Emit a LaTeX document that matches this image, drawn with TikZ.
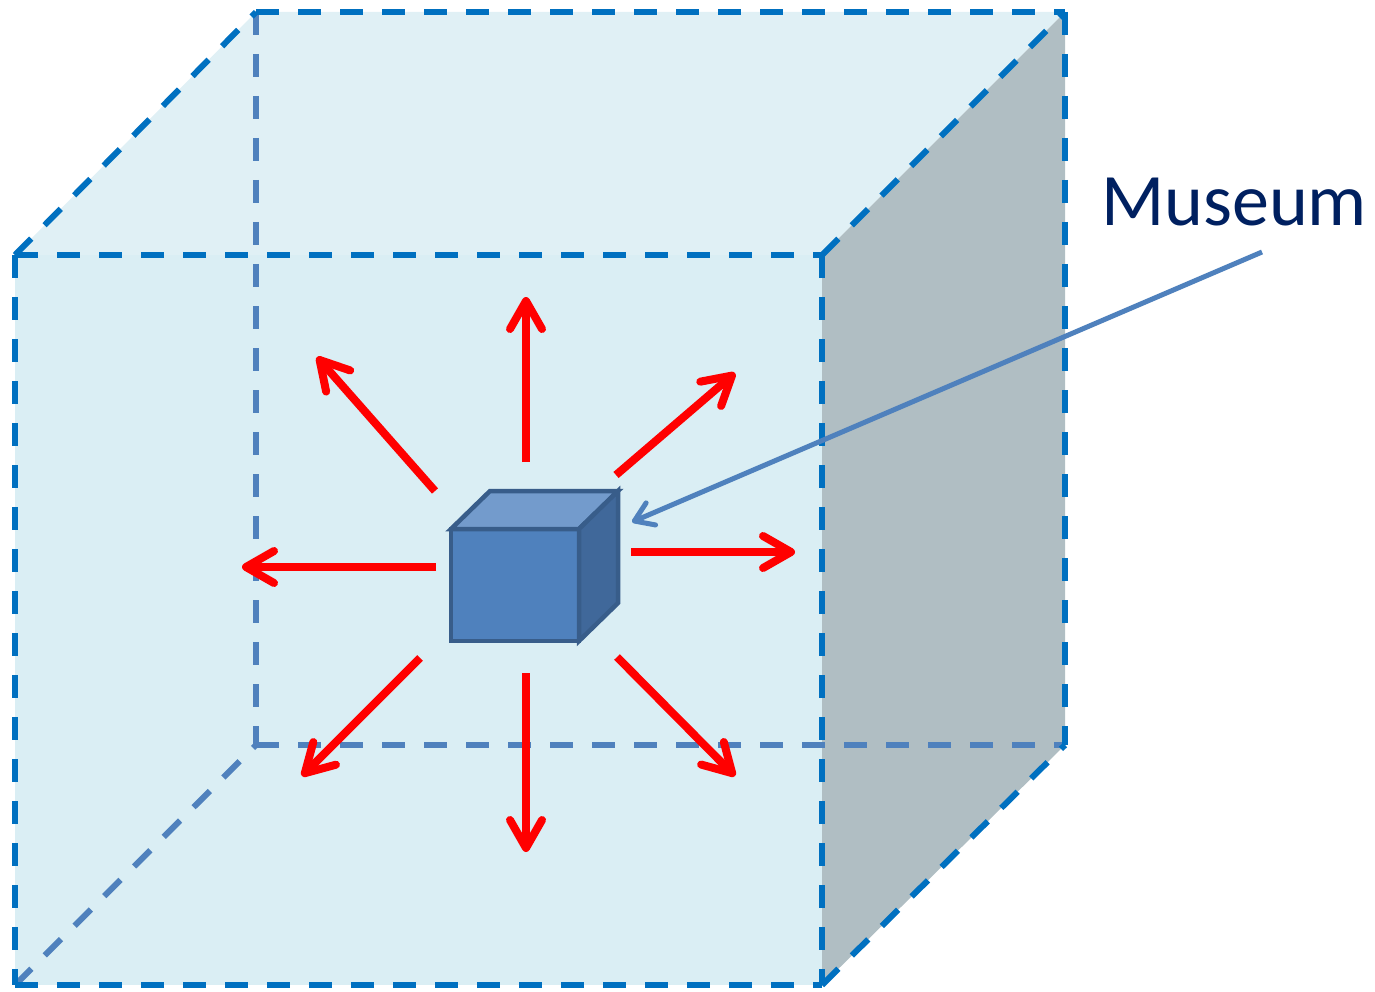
\documentclass[tikz,border=0pt]{standalone}
\usepackage{fontspec}
\setmainfont{Carlito}
\usetikzlibrary{arrows.meta}

\definecolor{frontfill}{RGB}{218,238,244}
\definecolor{topfill}{RGB}{224,240,245}
\definecolor{sidefill}{RGB}{176,190,195}
\definecolor{edgeblue}{RGB}{0,112,192}
\definecolor{hiddenblue}{RGB}{79,129,189}
\definecolor{cubefront}{RGB}{79,129,189}
\definecolor{cubetop}{RGB}{115,155,204}
\definecolor{cuberight}{RGB}{64,104,154}
\definecolor{cubeedge}{RGB}{56,93,138}
\definecolor{labelnavy}{RGB}{0,32,96}

\tikzset{
  visibleedge/.style={draw=edgeblue, line width=6pt, dash pattern=on 23pt off 19pt},
  hiddenedge/.style={draw=hiddenblue, line width=6pt, dash pattern=on 23pt off 19pt},
  cubeface/.style={draw=cubeedge, line width=4.5pt, line join=miter},
  ray/.style={draw=red, line width=8pt,
    -{Straight Barb[length=28pt, width=32pt, round]}},
  pointer/.style={draw=hiddenblue, line width=5pt,
    -{Straight Barb[length=18pt, width=24pt, round]}},
  labeltext/.style={text=labelnavy, font=\fontsize{74}{80}\selectfont,
    inner sep=0pt, anchor=base west}
}

\begin{document}
\begin{tikzpicture}[x=1pt, y=-1pt]
\useasboundingbox (0,0) rectangle (1375,992);

% corners of the large box
\coordinate (A) at (15,255);
\coordinate (B) at (822,255);
\coordinate (C) at (822,985);
\coordinate (D) at (15,985);
\coordinate (E) at (256,12);
\coordinate (G) at (1065,12);
\coordinate (H) at (1065,745);
\coordinate (K) at (256,745);

% faces of the large box
\fill[frontfill] (A) rectangle (C);
\fill[topfill] (A) -- (E) -- (G) -- (B) -- cycle;
\fill[sidefill] (B) -- (G) -- (H) -- (C) -- cycle;

% hidden edges
\draw[hiddenedge] (E) -- (K);
\draw[hiddenedge] (K) -- (H);
\draw[hiddenedge] (D) -- (K);

% visible edges
\draw[visibleedge] (A) -- (B);
\draw[visibleedge] (B) -- (C);
\draw[visibleedge] (D) -- (C);
\draw[visibleedge] (A) -- (D);
\draw[visibleedge] (A) -- (E);
\draw[visibleedge] (E) -- (G);
\draw[visibleedge] (B) -- (G);
\draw[visibleedge] (G) -- (H);
\draw[visibleedge] (C) -- (H);

% small cube
\coordinate (m1) at (451,529);
\coordinate (m2) at (579,529);
\coordinate (m3) at (579,641);
\coordinate (m4) at (451,641);
\coordinate (m5) at (490,491);
\coordinate (m6) at (618,491);
\coordinate (m7) at (618,603);
\path[cubeface, fill=cubefront] (m1) -- (m2) -- (m3) -- (m4) -- cycle;
\path[cubeface, fill=cubetop] (m1) -- (m5) -- (m6) -- (m2) -- cycle;
\path[cubeface, fill=cuberight] (m2) -- (m6) -- (m7) -- (m3) -- cycle;

% rays leaving the cube
\coordinate (s1) at (526,462);  \coordinate (t1) at (526,297);
\coordinate (s2) at (435,491);  \coordinate (t2) at (317,357);
\coordinate (s3) at (616,475);  \coordinate (t3) at (735,373);
\coordinate (s4) at (436,567);  \coordinate (t4) at (242,567);
\coordinate (s5) at (631,552);  \coordinate (t5) at (795,552);
\coordinate (s6) at (420,658);  \coordinate (t6) at (302,776);
\coordinate (s7) at (526,673);  \coordinate (t7) at (526,852);
\coordinate (s8) at (617,657);  \coordinate (t8) at (735,776);
\foreach \i in {1,...,8} \draw[ray] (s\i) -- (t\i);

% label and pointer
\node[labeltext] (museum) at (1101,226) {Museum};
\coordinate (pstart) at (1262,252);
\coordinate (ptip) at (632,522);
\draw[pointer] (pstart) -- (ptip);
\end{tikzpicture}
\end{document}
